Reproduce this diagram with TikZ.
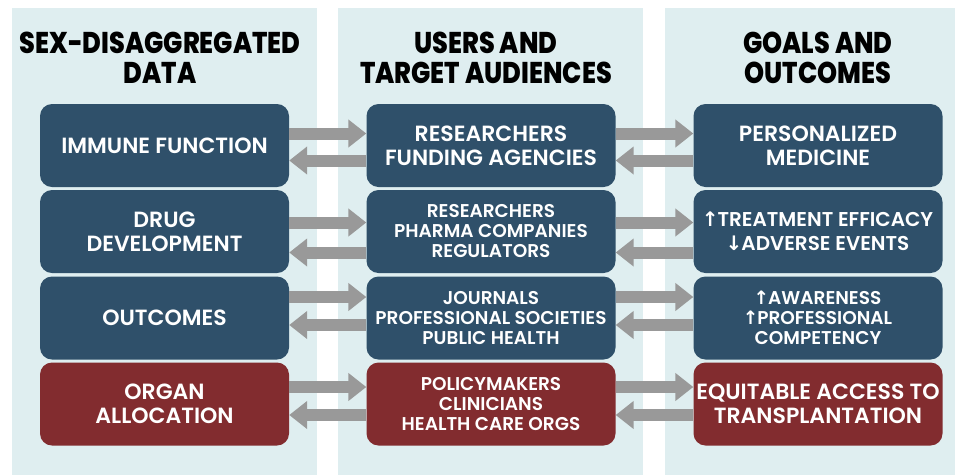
\documentclass[tikz,border=0pt]{standalone}
\usepackage{fontspec}
\setmainfont{Poppins}
\newfontfamily\headfont{Poppins}[FakeStretch=0.85, BoldFont={* ExtraBold}]
\newfontfamily\boxfont{Poppins}[BoldFont={* SemiBold}]
\newfontfamily\symfont{DejaVu Sans}
\usetikzlibrary{arrows.meta}
\definecolor{paleteal}{HTML}{DFEEF0}
\definecolor{slateblue}{HTML}{2F506A}
\definecolor{brickred}{HTML}{822C2F}
\definecolor{arrowgray}{HTML}{999999}
\newcommand{\up}{{\symfont\kern-1pt↑\kern-1pt}}
\newcommand{\down}{{\symfont\kern-1pt↓\kern-1pt}}

\begin{document}
\begin{tikzpicture}[x=1pt, y=-1pt, >={Triangle[length=18pt, width=27pt]}]

\useasboundingbox (0,0) rectangle (957,475);
\fill[paleteal] (12,8) rectangle (317,475);
\fill[paleteal] (338,8) rectangle (643,475);
\fill[paleteal] (665,8) rectangle (955,475);

\tikzstyle{every node}=[align=center, text=black, font=\headfont\bfseries\fontsize{30}{30}\selectfont]
\draw (160,58) node (headdata) {SEX-DISAGGREGATED\\DATA}
      (486,58) node (headusers) {USERS AND\\TARGET AUDIENCES}
      (818,58) node (headgoals) {GOALS AND\\OUTCOMES};

\tikzstyle{every node}=[align=center, text=white, fill=slateblue, rounded corners=12pt,
  minimum width=249pt, minimum height=83pt, inner sep=0pt,
  font=\boxfont\bfseries\fontsize{22}{24}\selectfont]
\tikzstyle{small}=[font=\boxfont\bfseries\fontsize{18.5}{20}\selectfont]
\tikzstyle{policy}=[fill=brickred]

\draw (164.5,145.5) node (immune) {IMMUNE FUNCTION}
      (164.5,231.5) node (drug) {DRUG\\DEVELOPMENT}
      (164.5,318) node (outcomes) {OUTCOMES}
      (164.5,404) node[policy] (organ) {ORGAN\\ALLOCATION};

\draw (491,145.5) node (funders) {RESEARCHERS\\FUNDING AGENCIES}
      (491,231.5) node[small] (pharma) {RESEARCHERS\\PHARMA COMPANIES\\REGULATORS}
      (491,318) node[small] (journals) {JOURNALS\\PROFESSIONAL SOCIETIES\\PUBLIC HEALTH}
      (491,404) node[small, policy] (policymakers) {POLICYMAKERS\\CLINICIANS\\HEALTH CARE ORGS};

\draw (818,145.5) node (personal) {PERSONALIZED\\MEDICINE}
      (818,231.5) node[font=\boxfont\bfseries\fontsize{20}{24}\selectfont] (efficacy) {\up TREATMENT EFFICACY\\\down ADVERSE EVENTS}
      (818,318) node[small] (awareness) {\up AWARENESS\\\up PROFESSIONAL\\COMPETENCY}
      (818,404) node[policy] (access) {EQUITABLE ACCESS TO\\TRANSPLANTATION};

\tikzstyle{flow}=[->, draw=arrowgray, line width=12pt]
\draw [flow] ([yshift=12pt]immune.east) -- ([yshift=12pt]funders.west);
\draw [flow] ([yshift=-15pt]funders.west) -- ([yshift=-15pt]immune.east);
\draw [flow] ([yshift=9pt]drug.east) -- ([yshift=9pt]pharma.west);
\draw [flow] ([yshift=-21pt]pharma.west) -- ([yshift=-21pt]drug.east);
\draw [flow] ([yshift=21pt]outcomes.east) -- ([yshift=21pt]journals.west);
\draw [flow] ([yshift=-7pt]journals.west) -- ([yshift=-7pt]outcomes.east);
\draw [flow] ([yshift=17pt]organ.east) -- ([yshift=17pt]policymakers.west);
\draw [flow] ([yshift=-11pt]policymakers.west) -- ([yshift=-11pt]organ.east);

\draw [flow] ([yshift=12pt]funders.east) -- ([yshift=12pt]personal.west);
\draw [flow] ([yshift=-15pt]personal.west) -- ([yshift=-15pt]funders.east);
\draw [flow] ([yshift=9pt]pharma.east) -- ([yshift=9pt]efficacy.west);
\draw [flow] ([yshift=-21pt]efficacy.west) -- ([yshift=-21pt]pharma.east);
\draw [flow] ([yshift=21pt]journals.east) -- ([yshift=21pt]awareness.west);
\draw [flow] ([yshift=-7pt]awareness.west) -- ([yshift=-7pt]journals.east);
\draw [flow] ([yshift=17pt]policymakers.east) -- ([yshift=17pt]access.west);
\draw [flow] ([yshift=-11pt]access.west) -- ([yshift=-11pt]policymakers.east);

\end{tikzpicture}
\end{document}
